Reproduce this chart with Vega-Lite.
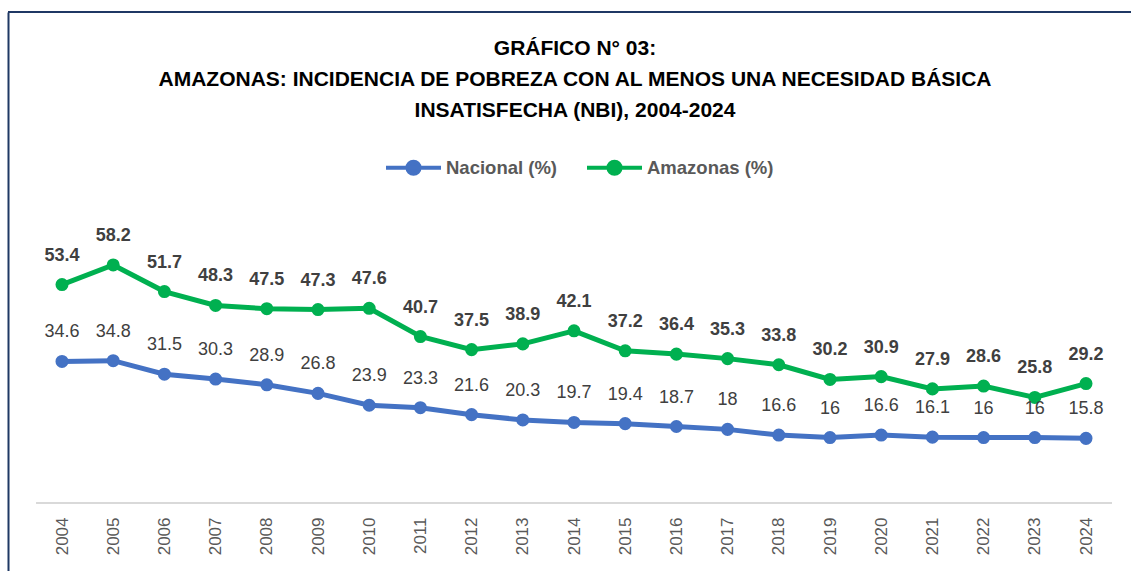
{
  "$schema": "https://vega.github.io/schema/vega-lite/v6.json",
  "width": 1123,
  "height": 559,
  "autosize": "none",
  "padding": {"left": 8, "top": 12, "right": 0, "bottom": 0},
  "background": "white",
  "config": {"view": {"stroke": null}, "font": "Liberation Sans"},
  "title": {
    "text": ["GRÁFICO N° 03:", "AMAZONAS: INCIDENCIA DE POBREZA CON AL MENOS UNA NECESIDAD BÁSICA", "INSATISFECHA (NBI), 2004-2024"],
    "anchor": "middle",
    "frame": "group",
    "fontSize": 21,
    "fontWeight": "bold",
    "color": "#000000",
    "lineHeight": 31,
    "offset": -110,
    "dx": 5.5
  },
  "data": {
    "values": [
      {"year": "2004", "serie": "Nacional (%)", "value": 34.6},
      {"year": "2005", "serie": "Nacional (%)", "value": 34.8},
      {"year": "2006", "serie": "Nacional (%)", "value": 31.5},
      {"year": "2007", "serie": "Nacional (%)", "value": 30.3},
      {"year": "2008", "serie": "Nacional (%)", "value": 28.9},
      {"year": "2009", "serie": "Nacional (%)", "value": 26.8},
      {"year": "2010", "serie": "Nacional (%)", "value": 23.9},
      {"year": "2011", "serie": "Nacional (%)", "value": 23.3},
      {"year": "2012", "serie": "Nacional (%)", "value": 21.6},
      {"year": "2013", "serie": "Nacional (%)", "value": 20.3},
      {"year": "2014", "serie": "Nacional (%)", "value": 19.7},
      {"year": "2015", "serie": "Nacional (%)", "value": 19.4},
      {"year": "2016", "serie": "Nacional (%)", "value": 18.7},
      {"year": "2017", "serie": "Nacional (%)", "value": 18},
      {"year": "2018", "serie": "Nacional (%)", "value": 16.6},
      {"year": "2019", "serie": "Nacional (%)", "value": 16},
      {"year": "2020", "serie": "Nacional (%)", "value": 16.6},
      {"year": "2021", "serie": "Nacional (%)", "value": 16.1},
      {"year": "2022", "serie": "Nacional (%)", "value": 16},
      {"year": "2023", "serie": "Nacional (%)", "value": 16},
      {"year": "2024", "serie": "Nacional (%)", "value": 15.8},
      {"year": "2004", "serie": "Amazonas (%)", "value": 53.4},
      {"year": "2005", "serie": "Amazonas (%)", "value": 58.2},
      {"year": "2006", "serie": "Amazonas (%)", "value": 51.7},
      {"year": "2007", "serie": "Amazonas (%)", "value": 48.3},
      {"year": "2008", "serie": "Amazonas (%)", "value": 47.5},
      {"year": "2009", "serie": "Amazonas (%)", "value": 47.3},
      {"year": "2010", "serie": "Amazonas (%)", "value": 47.6},
      {"year": "2011", "serie": "Amazonas (%)", "value": 40.7},
      {"year": "2012", "serie": "Amazonas (%)", "value": 37.5},
      {"year": "2013", "serie": "Amazonas (%)", "value": 38.9},
      {"year": "2014", "serie": "Amazonas (%)", "value": 42.1},
      {"year": "2015", "serie": "Amazonas (%)", "value": 37.2},
      {"year": "2016", "serie": "Amazonas (%)", "value": 36.4},
      {"year": "2017", "serie": "Amazonas (%)", "value": 35.3},
      {"year": "2018", "serie": "Amazonas (%)", "value": 33.8},
      {"year": "2019", "serie": "Amazonas (%)", "value": 30.2},
      {"year": "2020", "serie": "Amazonas (%)", "value": 30.9},
      {"year": "2021", "serie": "Amazonas (%)", "value": 27.9},
      {"year": "2022", "serie": "Amazonas (%)", "value": 28.6},
      {"year": "2023", "serie": "Amazonas (%)", "value": 25.8},
      {"year": "2024", "serie": "Amazonas (%)", "value": 29.2}
    ]
  },
  "encoding": {
    "x": {
      "field": "year",
      "type": "ordinal",
      "scale": {"type": "point", "range": [54, 1078], "padding": 0},
      "axis": {
        "orient": "bottom",
        "offset": -68,
        "domain": false,
        "ticks": false,
        "grid": false,
        "labelAngle": -90,
        "labelAlign": "right",
        "labelBaseline": "middle",
        "labelPadding": 14,
        "labelFontSize": 17,
        "labelColor": "#595959",
        "title": null
      }
    },
    "y": {
      "field": "value",
      "type": "quantitative",
      "scale": {"domain": [-16.63, 120.05], "nice": false, "zero": false},
      "axis": {
        "domainColor": "#1F3864",
        "domainWidth": 2,
        "labels": false,
        "ticks": false,
        "grid": false,
        "title": null
      }
    }
  },
  "layer": [
    {
      "mark": {"type": "rule", "color": "#1F3864", "strokeWidth": 2},
      "encoding": {"x": null, "y": {"datum": 120.05}}
    },
    {
      "mark": {"type": "rule", "color": "#D9D9D9", "strokeWidth": 1.5, "xOffset": -25.6, "x2Offset": 25.6},
      "encoding": {"x": {"datum": "2004"}, "x2": {"datum": "2024"}, "y": {"datum": 0}}
    },
    {
      "mark": {"type": "line", "strokeWidth": 5, "point": {"filled": true, "size": 170}},
      "encoding": {
        "color": {
          "field": "serie",
          "type": "nominal",
          "sort": ["Nacional (%)", "Amazonas (%)"],
          "scale": {"domain": ["Nacional (%)", "Amazonas (%)"], "range": ["#4472C4", "#00B050"]},
          "legend": {
            "orient": "none",
            "legendX": 376,
            "legendY": 126,
            "direction": "horizontal",
            "title": null,
            "symbolType": "M-1,0L1,0M-0.22,0A0.22,0.22,0,1,0,0.22,0A0.22,0.22,0,1,0,-0.22,0Z",
            "symbolSize": 3025,
            "symbolStrokeWidth": 4,
            "labelFontSize": 18.5,
            "labelFontWeight": "bold",
            "labelColor": "#595959",
            "labelOffset": 3,
            "columnPadding": 21,
            "encode": {"symbols": {"update": {"fill": {"scale": "color", "field": "value"}, "opacity": {"value": 1}}}}
          }
        }
      }
    },
    {
      "transform": [{"filter": "datum.serie === 'Amazonas (%)'"}],
      "mark": {"type": "text", "dy": -29, "fontSize": 18, "fontWeight": "bold", "color": "#404040"},
      "encoding": {"text": {"field": "value", "type": "quantitative"}}
    },
    {
      "transform": [{"filter": "datum.serie === 'Nacional (%)'"}],
      "mark": {"type": "text", "dy": -29, "fontSize": 18, "color": "#404040"},
      "encoding": {"text": {"field": "value", "type": "quantitative"}}
    }
  ]
}
